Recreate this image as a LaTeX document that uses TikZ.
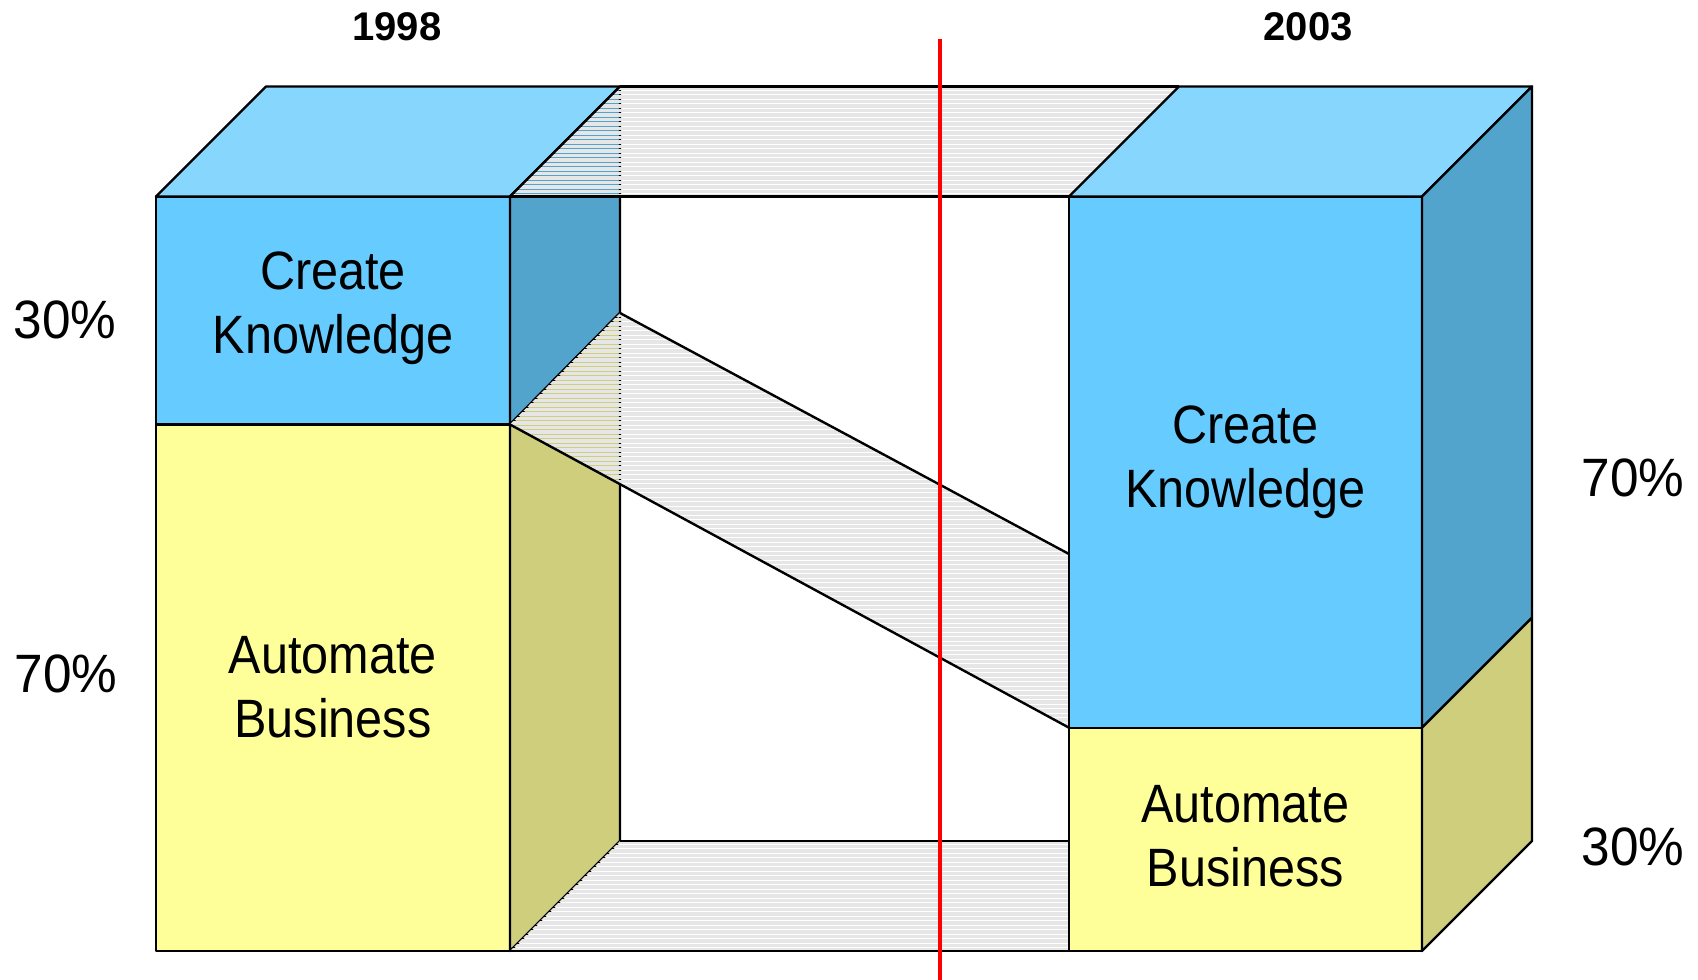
\documentclass[tikz,border=0pt]{standalone}
\usepackage{fontspec}
\setmainfont{Liberation Sans}
\newfontfamily\boxfont[FakeStretch=0.9]{Liberation Sans}
\newfontfamily\pctfont[FakeStretch=0.95]{Liberation Sans}
\usepackage{tikz}
\usepackage{xcolor}
\usetikzlibrary{positioning}
\definecolor{frontblue}{HTML}{66CCFF}
\definecolor{topblue}{HTML}{87D6FD}
\definecolor{sideblue}{HTML}{52A4CC}
\definecolor{frontyellow}{HTML}{FFFF99}
\definecolor{sideyellow}{HTML}{CFCE7C}
\definecolor{bandgray}{HTML}{E6E6E6}

\begin{document}
\begin{tikzpicture}[x=0.5pt,y=-0.5pt]
        \tikzstyle{face}=[draw=black,line width=1.2pt,line join=round]
        \tikzstyle{bandline}=[draw=black,line width=1.2pt]
        \tikzstyle{stripe}=[draw=bandgray,line width=1.7pt]
        \tikzstyle{boxtext}=[font=\boxfont\fontsize{27}{32}\selectfont,align=center]
        \tikzstyle{percent}=[font=\pctfont\fontsize{27}{32}\selectfont]
        \tikzstyle{year}=[font=\bfseries\fontsize{20}{22}\selectfont]
        \useasboundingbox (0,0) rectangle (1698,980);

        % corners of the two blocks
        \coordinate (a1) at (510,196.5);  \coordinate (a2) at (620,86.5);
        \coordinate (a3) at (510,424.5);  \coordinate (a4) at (620,313);
        \coordinate (a5) at (510,951);    \coordinate (a6) at (620,841);
        \coordinate (b1) at (1069,196.5); \coordinate (b2) at (1179,86.5);
        \coordinate (b3) at (1069,554);   \coordinate (b4) at (1069,727.7);
        \coordinate (b5) at (1069,841);   \coordinate (b6) at (1069,951);

        % 1998 block
        \begin{scope}
         \path[face,fill=frontblue] (156,196.5) rectangle (a3);
         \path[face,fill=frontyellow] (156,424.5) rectangle (a5);
         \path[face,fill=topblue] (156,196.5) -- (266,86.5) -- (a2) -- (a1) -- cycle;
         \path[face,fill=sideblue] (a1) -- (a2) -- (a4) -- (a3) -- cycle;
         \path[face,fill=sideyellow] (a3) -- (a4) -- (a6) -- (a5) -- cycle;
        \end{scope}

        % bands
        \begin{scope}
         \clip (a1) -- (a2) -- (b2) -- (b1) -- cycle;
         \foreach \y in {88,92.5,...,197} \path[stripe] (500,\y) -- (1190,\y);
        \end{scope}
        \begin{scope}
         \clip (a3) -- (a4) -- (b3) -- (b4) -- cycle;
         \foreach \y in {315,319.5,...,728} \path[stripe] (500,\y) -- (1080,\y);
        \end{scope}
        \begin{scope}
         \clip (a5) -- (a6) -- (b5) -- (b6) -- cycle;
         \foreach \y in {842,846.5,...,951} \path[stripe] (500,\y) -- (1080,\y);
        \end{scope}
        \path[face] (a1) -- (a2);
        \path[bandline] (a2) -- (b2);
        \path[bandline] (a1) -- (b1);
        \path[bandline] (a4) -- (b3);
        \path[bandline] (a3) -- (b4);
        \path[bandline] (a6) -- (b5);
        \path[bandline] (a5) -- (b6);

        % 2003 block
        \begin{scope}
         \path[face,fill=frontblue] (b1) rectangle (1422,727.7);
         \path[face,fill=frontyellow] (b4) rectangle (1422,951);
         \path[face,fill=topblue] (b1) -- (b2) -- (1532,86.5) -- (1422,196.5) -- cycle;
         \path[face,fill=sideblue] (1422,196.5) -- (1532,86.5) -- (1532,617.7) -- (1422,727.7) -- cycle;
         \path[face,fill=sideyellow] (1422,727.7) -- (1532,617.7) -- (1532,841) -- (1422,951) -- cycle;
        \end{scope}

        % divider
        \coordinate (d1) at (940,39);
        \coordinate (d2) at (940,980);
        \path[draw=red,line width=1.7pt] (d1) -- (d2);

        % texts
        \node [boxtext] (ck98) at (333,308) {Create\\Knowledge};
        \node [boxtext] (ab98) at (333,687) {Automate\\Business};
        \node [boxtext] (ck03) at (1245.5,462) {Create\\Knowledge};
        \node [boxtext] (ab03) at (1245.5,836) {Automate\\Business};
        \node [percent] (p98a) at (65,320) {30\%};
        \node [percent] (p98b) at (66,673.5) {70\%};
        \node [percent] (p03a) at (1633,477.5) {70\%};
        \node [percent] (p03b) at (1633,847) {30\%};
        \node [year] (y98) at (397,27) {1998};
        \node [year] (y03) at (1308,27) {2003};
\end{tikzpicture}
\end{document}
